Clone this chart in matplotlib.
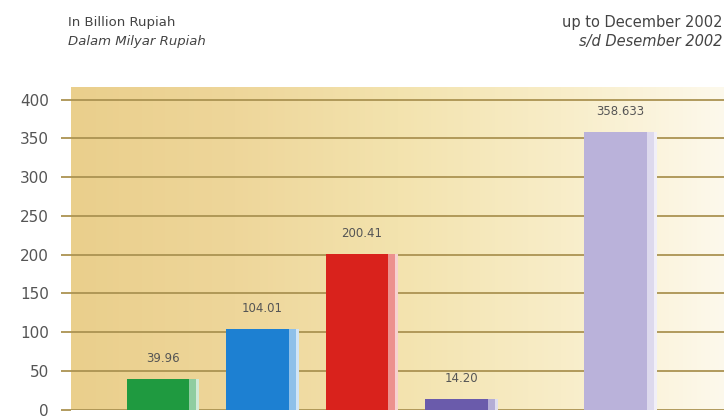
import numpy as np
import matplotlib.pyplot as plt
from matplotlib.colors import LinearSegmentedColormap, to_rgb

# Data
values = [39.96, 104.01, 200.41, 14.20, 358.633]
value_labels = ["39.96", "104.01", "200.41", "14.20", "358.633"]
yticks = [0, 50, 100, 150, 200, 250, 300, 350, 400]

# layout
positions = [0, 1, 2, 3, 4.6]
colors = ["#1f9a40", "#1d80d2", "#d9221c", "#6a5bab", "#bab2da"]
bar_w = 0.73

fig = plt.figure(figsize=(7.24, 4.19), dpi=100)
ax = fig.add_axes([0.098, 0.022, 0.902, 0.77])
ax.set_xlim(-0.925, 5.64)
ax.set_ylim(0, 416)

# background gradient (tan on the left fading to near white at the right)
bg = LinearSegmentedColormap.from_list(
    "bg", ["#eacf8c", "#eed69a", "#f3e3ae", "#f8edc8", "#fdf9ec"])
grad = np.linspace(0, 1, 256).reshape(1, -1)
ax.imshow(grad, cmap=bg, aspect="auto", extent=[-0.925, 5.64, 0, 416], zorder=0)

grid_c = "#ab9352"
for t in yticks:
    ax.axhline(t, color=grid_c, lw=1.3, zorder=1)

for x, v, c, lab in zip(positions, values, colors, value_labels):
    ax.bar(x, v, width=bar_w, color=c, zorder=2, linewidth=0)
    # lighter right edge for the 3d look
    light = tuple(min(1, ch + (1 - ch) * 0.5) for ch in to_rgb(c))
    ax.bar(x + bar_w / 2 - 0.05, v, width=0.1, color=light, zorder=3, linewidth=0)
    ax.bar(x + bar_w / 2 - 0.015, v, width=0.03, color="white", alpha=0.6, zorder=3, linewidth=0)
    ax.text(x, v + 18, lab, ha="center", va="bottom", fontsize=8.5,
            color="#555555", zorder=4)

ax.set_yticks(yticks)
ax.set_yticklabels([str(t) for t in yticks], fontsize=11, color="#555555")
ax.tick_params(axis="y", length=7, width=1.3, color=grid_c, pad=9)
ax.set_xticks([])
for s in ax.spines.values():
    s.set_visible(False)

fig.text(0.094, 0.947, "In Billion Rupiah", fontsize=9.5, color="#444444", va="center")
fig.text(0.094, 0.900, "Dalam Milyar Rupiah", fontsize=9.5, color="#444444",
         va="center", style="italic")
fig.text(0.998, 0.947, "up to December 2002", fontsize=10.5, color="#444444",
         va="center", ha="right")
fig.text(0.998, 0.900, "s/d Desember 2002", fontsize=10.5, color="#444444",
         va="center", ha="right", style="italic")

fig.savefig("out.png", dpi=100)
